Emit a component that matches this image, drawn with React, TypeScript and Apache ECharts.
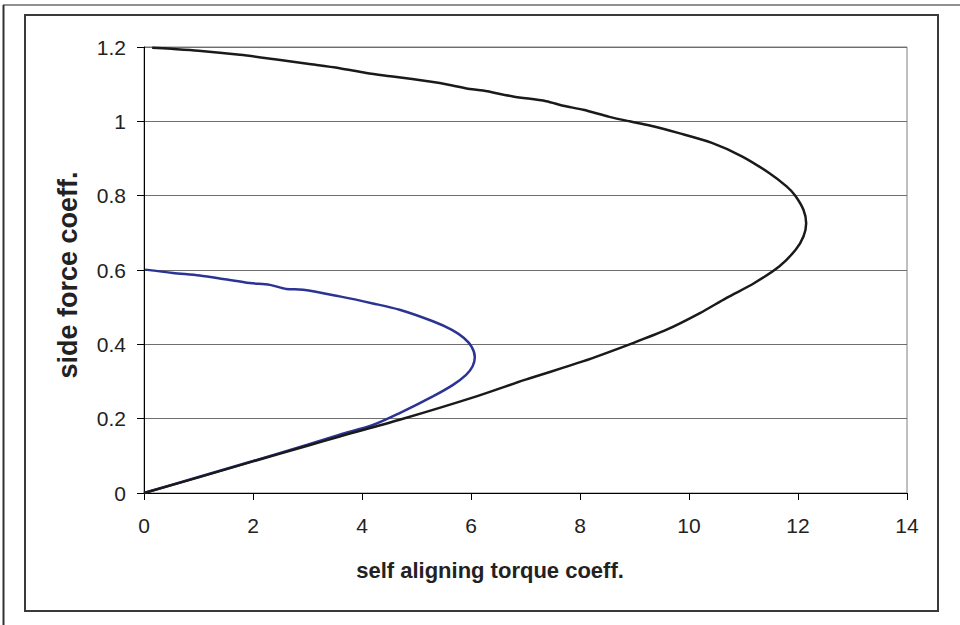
import React, { useEffect, useRef } from "react";
import * as echarts from "echarts";

const xTicks = [0, 2, 4, 6, 8, 10, 12, 14];
const yTicks = [0, 0.2, 0.4, 0.6, 0.8, 1, 1.2];

// series 1 (black): self aligning torque coeff. vs side force coeff.
const blackTorque = [
  0, 1, 2, 3, 3.59, 4.69, 6.1, 7, 8.05, 8.91, 9.6, 10.2, 10.69, 11.2, 11.66, 11.96, 12.1, 12.15, 12.1, 11.95,
  11.79, 11.47, 10.97, 10.42, 9.8, 9.28, 8.91, 8.54, 8.06, 7.69, 7.38, 6.77, 6.22, 5.98, 5.61, 5.24, 4.6, 4.08,
  3.59, 3.0, 2.4, 1.76, 1.0, 0.5, 0.15,
];
const blackForce = [
  0, 0.042, 0.085, 0.127, 0.152, 0.197, 0.26, 0.305, 0.354, 0.4, 0.44, 0.484, 0.525, 0.565, 0.61, 0.655, 0.69, 0.726,
  0.762, 0.8, 0.825, 0.861, 0.906, 0.942, 0.969, 0.989, 1.0, 1.012, 1.031, 1.042, 1.054, 1.067, 1.083, 1.087, 1.098,
  1.107, 1.12, 1.13, 1.143, 1.155, 1.167, 1.179, 1.19, 1.195, 1.198,
];

// series 2 (blue)
const blueTorque = [
  0, 1, 2, 3, 3.59, 4.2, 4.69, 5.3, 5.67, 5.91, 6.03, 6.07, 6.01, 5.87, 5.65, 5.3, 4.69, 4.2, 3.59, 2.92,
  2.61, 2.31, 1.94, 1.45, 1.02, 0.53, 0.02,
];
const blueForce = [
  0, 0.043, 0.086, 0.13, 0.157, 0.183, 0.215, 0.26, 0.291, 0.318, 0.341, 0.366, 0.394, 0.417, 0.439, 0.462,
  0.493, 0.51, 0.529, 0.547, 0.549, 0.56, 0.565, 0.576, 0.585, 0.592, 0.601,
];

const xName = "self aligning torque coeff.";
const yName = "side force coeff.";

const FONT = "'Liberation Sans', Arial, sans-serif";

export default function App() {
  const ref = useRef<HTMLDivElement>(null);
  useEffect(() => {
    if (!ref.current) return;
    const chart = echarts.init(ref.current, null, { renderer: "svg" });
    const black = blackTorque.map((x, i) => [x, blackForce[i]]);
    const blue = blueTorque.map((x, i) => [x, blueForce[i]]);
    chart.setOption({
      animation: false,
      backgroundColor: "#ffffff",
      grid: {
        left: 144,
        top: 47,
        right: 53,
        bottom: 132,
        show: true,
        borderColor: "#808080",
        borderWidth: 1,
        backgroundColor: "transparent",
      },
      xAxis: {
        type: "value",
        min: xTicks[0],
        max: xTicks[xTicks.length - 1],
        interval: 2,
        axisLine: { show: true, onZero: false, lineStyle: { color: "#000", width: 1 } },
        axisTick: { show: true, inside: false, length: 7, lineStyle: { color: "#000" } },
        axisLabel: { margin: 22, fontSize: 21, color: "#222", fontFamily: FONT },
        splitLine: { show: false },
      },
      yAxis: {
        type: "value",
        min: yTicks[0],
        max: yTicks[yTicks.length - 1],
        interval: 0.2,
        axisLine: { show: true, onZero: false, lineStyle: { color: "#000", width: 1 } },
        axisTick: { show: true, inside: false, length: 7, lineStyle: { color: "#000" } },
        axisLabel: {
          margin: 18,
          fontSize: 21,
          color: "#222",
          fontFamily: FONT,
          formatter: (v: number) => String(+v.toFixed(1)),
        },
        splitLine: { show: true, lineStyle: { color: "#6e6e6e", width: 1 } },
      },
      series: [
        {
          type: "line",
          data: blue,
          showSymbol: false,
          smooth: 0.3,
          lineStyle: { color: "#2B3494", width: 2.5 },
          z: 2,
        },
        {
          type: "line",
          data: black,
          showSymbol: false,
          smooth: 0.3,
          lineStyle: { color: "#1a1a1a", width: 2.5 },
          z: 3,
        },
      ],
      graphic: [
        {
          type: "line",
          shape: { x1: 3, y1: 5, x2: 960, y2: 5 },
          style: { stroke: "#6b6b6b", lineWidth: 1.5 },
        },
        {
          type: "line",
          shape: { x1: 3.5, y1: 5, x2: 3.5, y2: 625 },
          style: { stroke: "#333", lineWidth: 2 },
        },
        {
          type: "rect",
          shape: { x: 25, y: 15, width: 913, height: 596 },
          style: { fill: "none", stroke: "#3a3a3a", lineWidth: 2 },
        },
        {
          type: "text",
          x: 490,
          y: 570,
          style: {
            text: xName,
            font: `bold 22px ${FONT}`,
            fill: "#222",
            textAlign: "center",
            textVerticalAlign: "middle",
          },
        },
        {
          type: "text",
          x: 68,
          y: 275,
          rotation: Math.PI / 2,
          style: {
            text: yName,
            font: `bold 27px ${FONT}`,
            fill: "#222",
            textAlign: "center",
            textVerticalAlign: "middle",
          },
        },
      ],
    });
    return () => chart.dispose();
  }, []);
  return (
    <div
      ref={ref}
      style={{ position: "fixed", left: 0, top: 0, width: 960, height: 625 }}
    />
  );
}
